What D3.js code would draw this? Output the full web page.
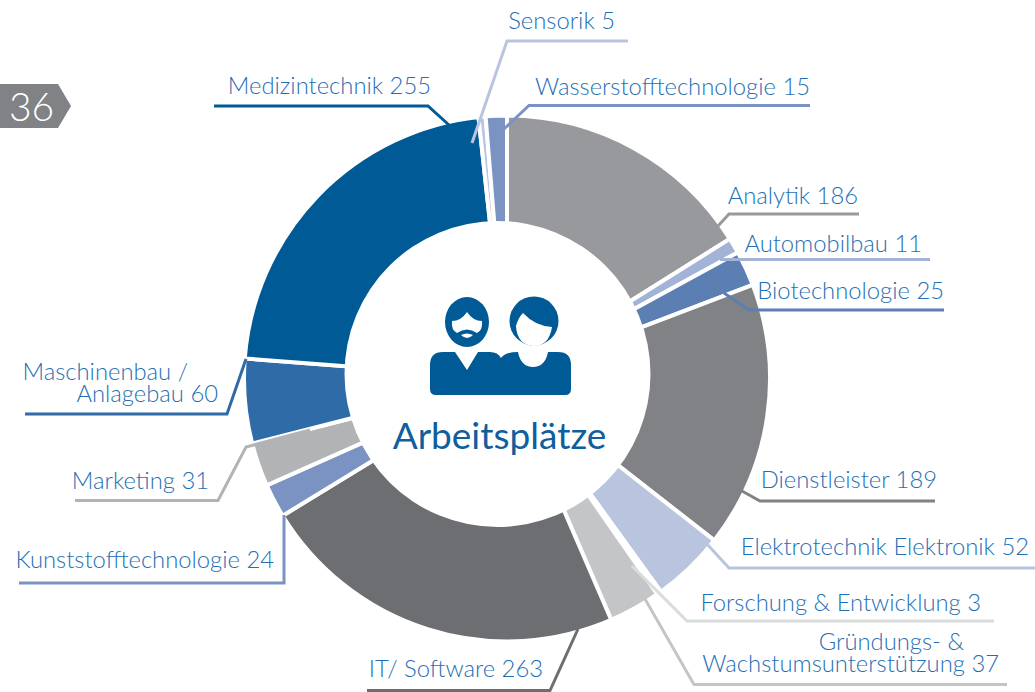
<!DOCTYPE html>
<html><head><meta charset="utf-8">
<script src="https://cdn.jsdelivr.net/npm/d3@7"></script>
<style>html,body{margin:0;padding:0;background:#fff;overflow:hidden}svg{display:block}</style>
</head><body><svg id="c" width="1035" height="692"></svg>
<script>
const categories=["Analytik","Automobilbau","Biotechnologie","Dienstleister","Elektrotechnik Elektronik","Forschung & Entwicklung","Gründungs- & Wachstumsunterstützung","IT/ Software","Kunststofftechnologie","Marketing","Maschinenbau / Anlagebau","Medizintechnik","Sensorik","Wasserstofftechnologie"];
const values=[186,11,25,189,52,3,37,263,24,31,60,255,5,15];
const colors=["#97999c","#a3b3d8","#5b7fb3","#808285","#b9c5df","#d9dbdc","#c3c5c7","#6d6e71","#7b93c3","#b1b3b5","#2f6ba6","#005a96","#b9c5df","#7b93c3"];
const labelLines=[["Analytik 186"],["Automobilbau 11"],["Biotechnologie 25"],["Dienstleister 189"],["Elektrotechnik Elektronik 52"],["Forschung & Entwicklung 3"],["Gründungs- &","Wachstumsunterstützung 37"],["IT/ Software 263"],["Kunststofftechnologie 24"],["Marketing 31"],["Maschinenbau /","Anlagebau 60"],["Medizintechnik 255"],["Sensorik 5"],["Wasserstofftechnologie 15"]];
// layout: right end + baseline of each label line, and leader polyline, by category index
const layout=[
 {t:[[858,204]],p:[[718,226],[729,214],[859,214]]},
 {t:[[922,252]],p:[[720,259.5],[930,259.5]]},
 {t:[[944,299]],p:[[724,293],[749,310],[944,310]]},
 {t:[[937,488]],p:[[742,491],[760,501],[935,501]]},
 {t:[[1029,555]],p:[[706,543],[729,568],[1035,568]]},
 {t:[[981,611]],p:[[632,566],[687,621],[994,621]]},
 {t:[[964,650],[999,672]],p:[[645,599],[694,684.5],[1007,684.5]]},
 {t:[[543,677]],p:[[578,629],[550,690.5],[367,690.5]]},
 {t:[[274,568]],p:[[284,515],[284,583],[19,583]]},
 {t:[[209,489]],p:[[310,430],[246,447],[218,500.5],[75,500.5]]},
 {t:[[188,380],[218,402]],p:[[246,359],[227,414],[25,414]]},
 {t:[[431,94]],p:[[449,125],[428,106],[214,106]]},
 {t:[[615,29]],p:[[472,143],[507,41],[628,41]]},
 {t:[[810,95]],p:[[504,129],[529,105.5],[810,105.5]]}
];
const svg=d3.select("#c");
const cx=507,cy=378.5,R=263;
const FONT="Lato, 'Open Sans', sans-serif", BLUE="#1f6fb4";
// page-number tag
svg.append("path").attr("d",d3.line()([[0,84],[58,84],[71,106],[58,128],[0,128]])).attr("fill","#808285");
svg.append("text").text("36").attr("x",9).attr("y",121).attr("font-family",FONT).attr("font-weight",300).attr("font-size",39).attr("fill","#fff");
// donut: slices radiate from the ring's centre; the hole sits slightly off-centre
const pie=d3.pie().sort(null).value(d=>d)(values);
const arc=d3.arc().innerRadius(0).outerRadius(R);
const g=svg.append("g").attr("transform",`translate(${cx},${cy})`);
g.selectAll("path").data(pie).join("path").attr("d",arc).attr("fill",(d,i)=>colors[i]).attr("stroke","#fff").attr("stroke-width",4);
svg.append("circle").attr("cx",497.5).attr("cy",374).attr("r",153).attr("fill","#fff");
// leaders
svg.append("g").selectAll("path").data(layout).join("path").attr("d",d=>d3.line()(d.p)).attr("fill","none").attr("stroke",(d,i)=>colors[i]).attr("stroke-width",3);
// labels
layout.forEach((l,i)=>{
 labelLines[i].forEach((t,k)=>{
  svg.append("text").text(t).attr("x",l.t[k][0]).attr("y",l.t[k][1]).attr("text-anchor","end").attr("font-family",FONT).attr("font-weight",300).attr("font-size",23.8).attr("fill",BLUE);
 });
});
// centre icon
const ic=svg.append("g").attr("fill","#005a96");
ic.append("path").attr("d","M430 365 Q430 352 443 352 L455 352 L467 370 L478 352 L490 352 Q498 352 501 358 Q505 352 518 352 Q521 367 533 367 Q545 367 548 352 L558 352 Q571 352 571 365 L571 389 Q571 395 565 395 L436 395 Q430 395 430 389Z");
ic.append("ellipse").attr("cx",467).attr("cy",322).attr("rx",22).attr("ry",25);
ic.append("path").attr("fill","#fff").attr("d","M452 321 Q461 321 467 312 Q473 321 482 321 Q483 330 477 333 Q467 326 457 333 Q451 330 452 321Z");
ic.append("path").attr("fill","#fff").attr("d","M461 335 Q467 332 473 335 Q467 341 461 335Z");
ic.append("circle").attr("cx",534).attr("cy",321).attr("r",24.5);
ic.append("path").attr("fill","#fff").attr("d","M523 313 Q535 326 552 327 Q549 346 534 346 Q517 345 516 326 Q518 318 523 313Z");
svg.append("text").text("Arbeitsplätze").attr("x",499.5).attr("y",449).attr("text-anchor","middle").attr("font-family",FONT).attr("font-size",37).attr("font-weight",400).attr("fill","#0f5f9e");
</script></body></html>
